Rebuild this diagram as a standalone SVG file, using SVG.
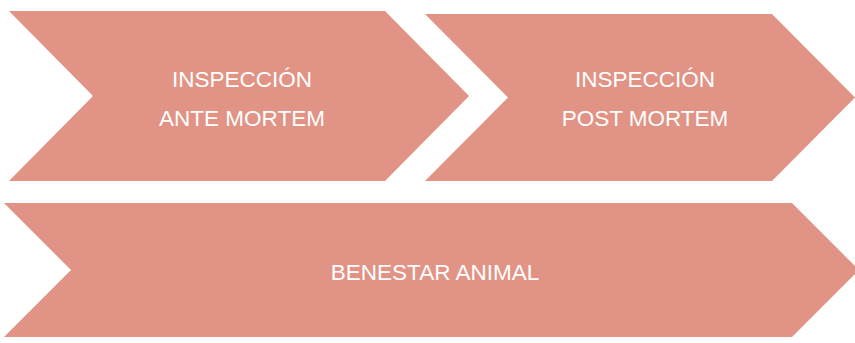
<svg xmlns="http://www.w3.org/2000/svg" width="855" height="343" viewBox="0 0 855 343">
<style>
.shape{fill:#E19385;}
.lbl{fill:#ffffff;font-family:"Liberation Sans",Arial,sans-serif;font-size:22.5px;text-anchor:middle;}
</style>
<rect width="855" height="343" fill="#ffffff"/>
<g id="connectors"></g>
<g id="node-ante">
<polygon class="shape" points="9,11 385,11 469,96 385,181 9,181 93,96"/>
<text class="lbl" x="242" y="87">INSPECCIÓN</text>
<text class="lbl" x="242" y="126">ANTE MORTEM</text>
</g>
<g id="node-post">
<polygon class="shape" points="425,14 772,14 855,97.5 772,181 425,181 508,97.5"/>
<text class="lbl" x="645" y="87">INSPECCIÓN</text>
<text class="lbl" x="645" y="126">POST MORTEM</text>
</g>
<g id="node-benestar">
<polygon class="shape" points="4,203 792,203 859,270 792,337 4,337 71,270"/>
<text class="lbl" x="435" y="280">BENESTAR ANIMAL</text>
</g>
</svg>
